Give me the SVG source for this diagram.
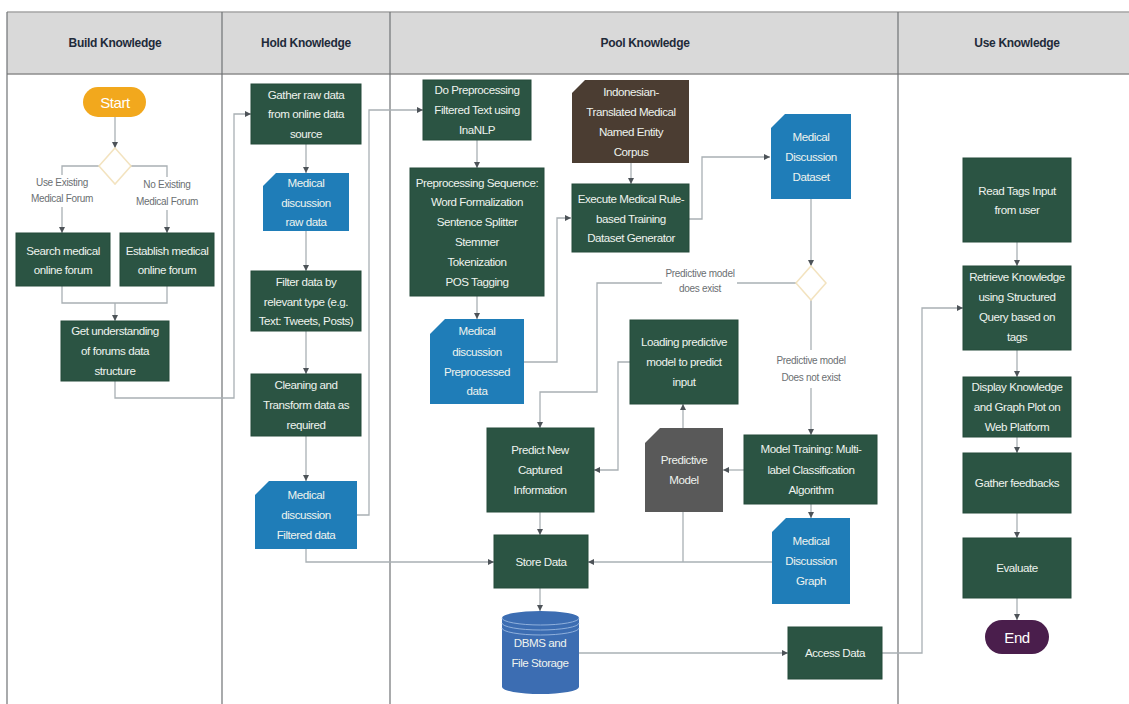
<svg xmlns="http://www.w3.org/2000/svg" width="1129" height="704" viewBox="0 0 1129 704">
<defs>
<marker id="ah" markerWidth="6" markerHeight="6" refX="6" refY="3" orient="auto" markerUnits="userSpaceOnUse">
<path d="M0,0 L6,3 L0,6 z" fill="#4d5358"/>
</marker>
<style>
.hdr{font-family:"Liberation Sans",Arial,sans-serif;font-size:12px;font-weight:bold;fill:#1f2b3a;text-anchor:middle;letter-spacing:-0.3px}
.t{font-family:"Liberation Sans",Arial,sans-serif;font-size:11.6px;fill:#eef3ee;text-anchor:middle;letter-spacing:-0.45px}
.lbl{font-family:"Liberation Sans",Arial,sans-serif;font-size:10px;fill:#6b6f72;text-anchor:middle;letter-spacing:-0.3px}
.g{fill:#2b5443;stroke:#244a3a;stroke-width:1}
.b{fill:#1f7db8}
.c{fill:none;stroke:#a9b0b4;stroke-width:1.3}
.a{marker-end:url(#ah)}
.div{stroke:#6f7275;stroke-width:1.2}
.dia{fill:#fff;stroke:#f3e3bf;stroke-width:1.5}
</style>
</defs>
<rect x="0" y="0" width="1129" height="704" fill="#fff"/>
<g id="frame">
<rect x="7" y="12" width="1122" height="62" fill="#d9d9d9"/>
<line x1="7" y1="12" x2="1129" y2="12" stroke="#a5a5a5" stroke-width="1.5"/>
<line x1="7" y1="74" x2="1129" y2="74" stroke="#8c8c8c" stroke-width="1.5"/>
<line x1="7" y1="12" x2="7" y2="704" class="div"/>
<line x1="222" y1="12" x2="222" y2="704" class="div"/>
<line x1="390" y1="12" x2="390" y2="704" class="div"/>
<line x1="898" y1="12" x2="898" y2="704" class="div"/>
<text class="hdr" x="115" y="47">Build Knowledge</text>
<text class="hdr" x="306" y="47">Hold Knowledge</text>
<text class="hdr" x="645" y="47">Pool Knowledge</text>
<text class="hdr" x="1017" y="47">Use Knowledge</text>
</g>
<g id="connectors">
<path class="c a" d="M115,117 V148"/>
<path class="c" d="M99,166 H62 V175"/>
<path class="c a" d="M62,207 V233"/>
<path class="c" d="M131,166 H167 V177"/>
<path class="c a" d="M167,210 V233"/>
<path class="c" d="M62,286 V303 H167 V286"/>
<path class="c a" d="M115,303 V321"/>
<path class="c a" d="M115,381 V398 H234 V114 H251"/>
<path class="c a" d="M306,144 V173"/>
<path class="c a" d="M306,231 V271"/>
<path class="c a" d="M306,331 V374"/>
<path class="c a" d="M306,436 V481"/>
<path class="c a" d="M357,515 H369 V110 H423"/>
<path class="c a" d="M306,549 V562 H494"/>
<path class="c a" d="M477,140 V168"/>
<path class="c a" d="M477,296 V319"/>
<path class="c a" d="M524,362 H557 V218 H571"/>
<path class="c a" d="M631,163 V184"/>
<path class="c a" d="M689,219 H702 V157 H770"/>
<path class="c a" d="M811,199 V266"/>
<path class="c" d="M796,283 H737"/>
<path class="c a" d="M662,283 H597 V392 H540 V428"/>
<path class="c" d="M811,300 V350"/>
<path class="c a" d="M811,388 V435"/>
<path class="c a" d="M811,504 V518"/>
<path class="c a" d="M744,470 H723"/>
<path class="c a" d="M683,428 V404"/>
<path class="c a" d="M630,362 H618 V470 H594"/>
<path class="c a" d="M540,512 V535"/>
<path class="c" d="M683,512 V562"/>
<path class="c a" d="M772,562 H588"/>
<path class="c a" d="M540,588 V611"/>
<path class="c a" d="M579,653 H788"/>
<path class="c a" d="M882,653 H922 V308 H963"/>
<path class="c a" d="M1017,242 V266"/>
<path class="c a" d="M1017,350 V377"/>
<path class="c a" d="M1017,437 V453"/>
<path class="c a" d="M1017,513 V538"/>
<path class="c a" d="M1017,598 V620"/>
<text class="lbl" x="62" y="186">Use Existing</text>
<text class="lbl" x="62" y="202">Medical Forum</text>
<text class="lbl" x="167" y="188">No Existing</text>
<text class="lbl" x="167" y="205">Medical Forum</text>
<text class="lbl" x="700" y="277">Predictive model</text>
<text class="lbl" x="700" y="292">does exist</text>
<text class="lbl" x="811" y="364">Predictive model</text>
<text class="lbl" x="811" y="381">Does not  exist</text>
</g>
<g id="start">
<rect x="83" y="87" width="63" height="30" rx="15" fill="#f2a81d"/>
<text class="t" x="115" y="108" style="font-size:15px;fill:#fff">Start</text>
</g>
<g id="decision1"><polygon class="dia" points="115,148 131,166 115,184 99,166"/></g>
<g id="search">
<rect class="g" x="16" y="233" width="94" height="53"/>
<text class="t" x="63" y="255">Search medical</text>
<text class="t" x="63" y="274">online forum</text>
</g>
<g id="establish">
<rect class="g" x="120" y="233" width="94" height="53"/>
<text class="t" x="167" y="255">Establish medical</text>
<text class="t" x="167" y="274">online forum</text>
</g>
<g id="understand">
<rect class="g" x="61" y="321" width="108" height="60"/>
<text class="t" x="115" y="335">Get understanding</text>
<text class="t" x="115" y="355">of forums data</text>
<text class="t" x="115" y="375">structure</text>
</g>
<g id="gather">
<rect class="g" x="251" y="84" width="110" height="60"/>
<text class="t" x="306" y="99">Gather raw data</text>
<text class="t" x="306" y="118">from online data</text>
<text class="t" x="306" y="138">source</text>
</g>
<g id="rawdata">
<path class="b" d="M276,173 H349 V231 H263 V186 Z"/>
<text class="t" x="306" y="187">Medical</text>
<text class="t" x="306" y="207">discussion</text>
<text class="t" x="306" y="226">raw data</text>
</g>
<g id="filter">
<rect class="g" x="251" y="271" width="110" height="60"/>
<text class="t" x="306" y="286">Filter data by</text>
<text class="t" x="306" y="306">relevant type (e.g.</text>
<text class="t" x="306" y="325">Text: Tweets, Posts)</text>
</g>
<g id="cleaning">
<rect class="g" x="251" y="374" width="110" height="62"/>
<text class="t" x="306" y="389">Cleaning and</text>
<text class="t" x="306" y="409">Transform data as</text>
<text class="t" x="306" y="429">required</text>
</g>
<g id="filtered">
<path class="b" d="M269,481 H357 V549 H255 V495 Z"/>
<text class="t" x="306" y="499">Medical</text>
<text class="t" x="306" y="519">discussion</text>
<text class="t" x="306" y="539">Filtered data</text>
</g>
<g id="dopre">
<rect class="g" x="423" y="80" width="108" height="60"/>
<text class="t" x="477" y="94">Do Preprocessing</text>
<text class="t" x="477" y="114">Filtered Text using</text>
<text class="t" x="477" y="134">InaNLP</text>
</g>
<g id="preseq">
<rect class="g" x="410" y="168" width="134" height="128"/>
<text class="t" x="477" y="187">Preprocessing Sequence:</text>
<text class="t" x="477" y="206">Word Formalization</text>
<text class="t" x="477" y="226">Sentence Splitter</text>
<text class="t" x="477" y="246">Stemmer</text>
<text class="t" x="477" y="266">Tokenization</text>
<text class="t" x="477" y="286">POS Tagging</text>
</g>
<g id="preprocessed">
<path class="b" d="M445,319 H524 V404 H430 V334 Z"/>
<text class="t" x="477" y="335">Medical</text>
<text class="t" x="477" y="356">discussion</text>
<text class="t" x="477" y="376">Preprocessed</text>
<text class="t" x="477" y="395">data</text>
</g>
<g id="corpus">
<path d="M585,80 H689 V163 H572 V93 Z" fill="#4b3d32"/>
<text class="t" x="631" y="96">Indonesian-</text>
<text class="t" x="631" y="116">Translated Medical</text>
<text class="t" x="631" y="136">Named Entity</text>
<text class="t" x="631" y="156">Corpus</text>
</g>
<g id="execute">
<rect class="g" x="572" y="184" width="117" height="68"/>
<text class="t" x="631" y="203">Execute Medical Rule-</text>
<text class="t" x="631" y="223">based Training</text>
<text class="t" x="631" y="242">Dataset Generator</text>
</g>
<g id="dataset">
<path class="b" d="M785,114 H851 V199 H771 V128 Z"/>
<text class="t" x="811" y="141">Medical</text>
<text class="t" x="811" y="161">Discussion</text>
<text class="t" x="811" y="181">Dataset</text>
</g>
<g id="decision2"><polygon class="dia" points="811,266 826,283 811,300 796,283"/></g>
<g id="loading">
<rect class="g" x="630" y="320" width="108" height="84"/>
<text class="t" x="684" y="346">Loading predictive</text>
<text class="t" x="684" y="366">model to predict</text>
<text class="t" x="684" y="386">input</text>
</g>
<g id="predict">
<rect class="g" x="487" y="428" width="107" height="84"/>
<text class="t" x="540" y="454">Predict New</text>
<text class="t" x="540" y="474">Captured</text>
<text class="t" x="540" y="494">Information</text>
</g>
<g id="predmodel">
<path d="M660,428 H723 V512 H645 V443 Z" fill="#595959"/>
<text class="t" x="684" y="464">Predictive</text>
<text class="t" x="684" y="484">Model</text>
</g>
<g id="training">
<rect class="g" x="744" y="435" width="133" height="69"/>
<text class="t" x="811" y="453">Model Training: Multi-</text>
<text class="t" x="811" y="474">label Classification</text>
<text class="t" x="811" y="494">Algorithm</text>
</g>
<g id="graph">
<path class="b" d="M786,518 H850 V604 H772 V532 Z"/>
<text class="t" x="811" y="545">Medical</text>
<text class="t" x="811" y="565">Discussion</text>
<text class="t" x="811" y="585">Graph</text>
</g>
<g id="store">
<rect class="g" x="494" y="535" width="94" height="53"/>
<text class="t" x="541" y="566">Store Data</text>
</g>
<g id="dbms">
<path d="M502,618 V687 A38.5,7 0 0 0 579,687 V618 A38.5,7 0 0 0 502,618 Z" fill="#3c6db2"/>
<path d="M502,618 A38.5,7 0 0 0 579,618" fill="none" stroke="#8fb0dc" stroke-width="1"/>
<path d="M502,623 A38.5,7 0 0 0 579,623" fill="none" stroke="#8fb0dc" stroke-width="1"/>
<path d="M502,628 A38.5,7 0 0 0 579,628" fill="none" stroke="#8fb0dc" stroke-width="1"/>
<text class="t" x="540" y="647">DBMS and</text>
<text class="t" x="540" y="667">File Storage</text>
</g>
<g id="access">
<rect class="g" x="788" y="627" width="94" height="52"/>
<text class="t" x="835" y="657">Access Data</text>
</g>
<g id="readtags">
<rect class="g" x="963" y="158" width="108" height="84"/>
<text class="t" x="1017" y="195">Read Tags Input</text>
<text class="t" x="1017" y="214">from user</text>
</g>
<g id="retrieve">
<rect class="g" x="963" y="266" width="108" height="84"/>
<text class="t" x="1017" y="281">Retrieve Knowledge</text>
<text class="t" x="1017" y="301">using Structured</text>
<text class="t" x="1017" y="321">Query based on</text>
<text class="t" x="1017" y="341">tags</text>
</g>
<g id="display">
<rect class="g" x="963" y="377" width="108" height="60"/>
<text class="t" x="1017" y="391">Display Knowledge</text>
<text class="t" x="1017" y="411">and Graph Plot on</text>
<text class="t" x="1017" y="431">Web Platform</text>
</g>
<g id="feedback">
<rect class="g" x="963" y="453" width="108" height="60"/>
<text class="t" x="1017" y="487">Gather feedbacks</text>
</g>
<g id="evaluate">
<rect class="g" x="963" y="538" width="108" height="60"/>
<text class="t" x="1017" y="572">Evaluate</text>
</g>
<g id="end">
<rect x="985" y="620" width="64" height="34" rx="17" fill="#4a1e4c"/>
<text class="t" x="1017" y="643" style="font-size:15px;fill:#fff">End</text>
</g>
</svg>
